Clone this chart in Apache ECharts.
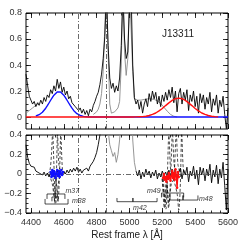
<!DOCTYPE html>
<html><head><meta charset="utf-8">
<script src="https://cdn.jsdelivr.net/npm/echarts@6/dist/echarts.min.js"></script>
<style>html,body{margin:0;padding:0;background:#fff}#c{width:240px;height:240px}</style>
</head><body><div id="c"></div>
<script>
// ---- wavelength sampling grid (Å) ----
const lamStart = 4370, lamStep = 10;

// ---- top panel: observed spectrum f_lambda ----
const fluxTop = [
 0.33,0.24,0.16,0.13,0.10,0.12,0.08,0.11,0.09,0.13,
 0.10,0.15,0.12,0.17,0.15,0.21,0.18,0.24,0.20,0.29,
 0.22,0.27,0.19,0.23,0.17,0.20,0.14,0.16,0.11,0.12,
 0.08,0.09,0.05,0.07,0.03,0.06,0.02,0.05,0.01,0.06,
 0.04,0.09,0.12,0.16,0.19,0.25,0.33,0.45,0.62,0.95,
 0.55,0.30,0.22,0.26,0.19,0.24,0.20,0.30,0.55,0.95,
 0.60,0.45,0.50,0.85,0.95,0.40,0.15,0.10,0.13,0.06,
 0.12,0.03,0.10,0.14,0.08,0.18,0.12,0.20,0.14,0.19,
 0.10,0.16,0.08,0.17,0.12,0.19,0.13,0.21,0.15,0.23,
 0.11,0.20,0.04,0.18,0.22,0.10,0.19,0.13,0.21,0.05,
 0.17,0.12,0.20,0.08,0.16,0.03,0.18,0.11,0.17,0.06,
 0.15,0.10,0.19,0.04,0.14,0.09,0.17,0.03,0.13,0.08,
 0.16,0.02,-0.09,0.07
];
// grey model (top)
const modelTop = [
 0.03,0.04,0.05,0.06,0.07,0.08,0.09,0.10,0.11,null,
 null,null,null,null,null,null,null,null,null,null,
 null,null,null,null,null,null,null,null,null,null,
 null,null,null,null,null,null,null,null,null,null,
 null,0.02,0.03,0.04,0.06,0.10,0.18,0.35,0.70,1.00,
 0.50,0.10,0.03,0.03,0.04,0.05,0.07,0.12,0.40,1.00,
 0.50,0.32,0.45,1.00,1.00,0.35,0.14,0.13,0.13,0.13,
 0.13,0.13,0.135,0.135,0.14,0.14,0.14,0.14,0.135,0.13,
 0.125,0.115,0.105,0.09,0.075,0.06,0.045,0.03,0.02,0.012,
 0.006,0.002,0.0,null,null,null,null,null,null,null,
 null,null,null,null,null,null,null,null,null,null,
 null,null,null,null,null,null,null,null,null,null,
 null,null,null,null
];
// blue component
const blueLam = [4430,4440,4450,4460,4470,4480,4490,4500,4510,4520,4530,4540,4550,4560,4570,4580,4590,4600,4610,4620,4630,4640,4650,4660,4670,4680,4690,4700,4710,4720,4730,4740,4750,4760,5600];
const blueVal = [0.008,0.012,0.018,0.026,0.037,0.051,0.068,0.087,0.108,0.129,0.150,0.168,0.183,0.192,0.195,0.192,0.183,0.168,0.150,0.129,0.108,0.087,0.068,0.051,0.037,0.026,0.018,0.012,0.008,0.005,0.003,0.002,0.001,0,0];
// red component
const redLam = [4370,5020,5040,5060,5080,5100,5110,5120,5130,5140,5150,5160,5170,5180,5190,5200,5210,5220,5230,5240,5250,5260,5270,5280,5290,5300,5310,5320,5330,5340,5350,5360,5370,5380,5390,5400,5410,5420,5430,5440,5450,5460,5470,5480,5490,5500,5520,5540];
const redVal = [0,0,0.001,0.002,0.003,0.006,0.009,0.012,0.015,0.020,0.025,0.031,0.039,0.047,0.056,0.066,0.077,0.088,0.099,0.109,0.119,0.128,0.135,0.141,0.144,0.145,0.144,0.141,0.135,0.128,0.119,0.109,0.099,0.088,0.077,0.066,0.056,0.047,0.039,0.031,0.025,0.020,0.015,0.012,0.009,0.006,0.003,0.001];

// ---- bottom panel: residuals ----
const residBottom = [
 0.30,0.17,0.11,0.08,0.06,0.07,0.03,0.05,0.01,0.03,
 -0.01,0.02,-0.02,0.01,-0.03,0.02,-0.02,0.03,-0.01,0.04,
 -0.03,0.02,-0.02,0.03,0.00,0.04,0.01,0.05,0.02,0.06,
 0.03,0.07,0.02,0.05,0.01,0.04,0.02,0.06,0.03,0.08,
 0.10,0.13,0.17,0.22,0.30,0.40,0.55,null,null,null,
 null,null,null,null,null,null,null,null,null,null,
 null,null,null,null,null,null,null,0.03,-0.02,0.04,
 -0.05,0.02,-0.03,0.05,-0.01,0.03,-0.04,0.02,-0.02,0.04,
 -0.05,0.01,-0.03,0.03,-0.02,0.02,-0.03,0.04,-0.02,0.05,
 -0.04,0.03,-0.09,0.02,0.06,-0.05,0.04,-0.01,0.07,-0.08,
 0.03,-0.02,0.08,-0.05,0.04,-0.11,0.07,-0.01,0.06,-0.07,
 0.05,-0.02,0.10,-0.09,0.04,-0.03,0.09,-0.10,0.05,-0.04,
 0.12,-0.12,-0.37,0.05
];
const greyBottom = [
 null,null,null,null,null,null,null,null,null,null,
 null,null,null,null,null,null,null,null,null,null,
 null,null,null,null,null,null,null,null,null,null,
 null,null,null,null,null,null,null,null,null,null,
 null,null,null,null,null,null,0.50,0.62,0.70,0.70,
 0.45,0.30,0.24,0.18,0.22,0.12,0.20,0.35,0.60,0.80,
 0.55,0.42,0.50,0.75,0.80,0.35,0.12,0.03,null,null
];
// dashed individual-line residual curves [lambda, delta]
const dashL1 = [[4500,0],[4515,0.03],[4525,0.2],[4532,0.42],[4540,0.1],[4548,-0.25],[4556,-0.05],[4570,0]];
const dashL2 = [[4520,0],[4535,-0.05],[4545,-0.3],[4555,0.0],[4562,0.42],[4570,0.1],[4585,0]];
const dashL3 = [[4540,0],[4555,-0.1],[4565,-0.28],[4575,0.05],[4582,0.42],[4592,0.05],[4605,0]];
const dashL4 = [[4510,0],[4530,-0.1],[4540,-0.22],[4550,-0.3],[4560,-0.2],[4572,-0.05],[4590,0]];
const dashR1 = [[5195,0],[5210,-0.2],[5222,-0.36],[5232,0.05],[5240,0.42],[5250,0.05],[5260,0]];
const dashR2 = [[5205,0],[5218,-0.3],[5228,-0.1],[5238,-0.35],[5250,-0.05],[5262,0.42],[5272,0.1],[5285,0]];
const dashR3 = [[5200,-0.05],[5212,-0.35],[5225,-0.05],[5240,-0.3],[5255,-0.1],[5270,-0.05],[5285,0.42],[5295,0.1],[5310,0]];
const dashR4 = [[5260,0],[5290,-0.2],[5300,-0.37],[5310,-0.1],[5318,0.42],[5328,0.05],[5340,0]];
// fitted points
const bluePts = [[4520,0.02],[4525,-0.03],[4530,0.04],[4535,-0.02],[4540,0.03],[4545,0.0],[4550,-0.04],[4555,0.02],[4560,0.04],[4565,-0.02],[4570,0.03],[4575,-0.03],[4580,0.02],[4585,0.04],[4590,-0.01],[4595,0.02]];
const redPts = [[5205,-0.04],[5210,0.0],[5215,-0.06],[5220,-0.03],[5225,-0.08],[5230,-0.02],[5235,-0.05],[5240,0.01],[5245,-0.04],[5250,-0.07],[5255,-0.02],[5260,0.03],[5265,-0.04],[5270,0.01],[5275,-0.06],[5280,0.05],[5285,-0.02],[5290,-0.14],[5295,0.02],[5300,-0.03]];
// range brackets
const brM37 = [[4498,-0.256],[4498,-0.205],[4607,-0.205],[4607,-0.256]];
const brSmall = [[4528,-0.28],[4528,-0.236],[4565,-0.236],[4565,-0.28]];
const brM38 = [[4486,-0.256],[4486,-0.308],[4626,-0.308],[4626,-0.256]];
const brM42 = [[4924,-0.246],[4924,-0.284],[5021,-0.284],[5021,-0.246],[5021,-0.284],[5168,-0.284],[5168,-0.246]];
const brM48 = [[5247,-0.22],[5247,-0.267],[5326,-0.267],[5326,-0.22],[5326,-0.267],[5417,-0.267],[5417,-0.22]];
const brM49 = [[5195,-0.24],[5195,-0.195],[5330,-0.195],[5330,-0.24]];
const bracketLabels = [
 {name:'m37', value:[4610,-0.178]},
 {name:'m38', value:[4650,-0.277]},
 {name:'m42', value:[5022,-0.35]},
 {name:'m49', value:[5107,-0.175]},
 {name:'m48', value:[5423,-0.262]}
];
// reference lines
const vLines = [4686, 4861];
// ticks
const xMajor = [4400,4600,4800,5000,5200,5400,5600];
const xMinor = [4400,4450,4500,4550,4600,4650,4700,4750,4800,4850,4900,4950,5000,5050,5100,5150,5200,5250,5300,5350,5400,5450,5500,5550,5600];
const yTopMajor = [0,0.2,0.4,0.6,0.8];
const yTopMinor = [-0.05,0,0.05,0.1,0.15,0.2,0.25,0.3,0.35,0.4,0.45,0.5,0.55,0.6,0.65,0.7,0.75,0.8];
const yBotMajor = [-0.4,-0.2,0,0.2,0.4];
const yBotMinor = [-0.4,-0.35,-0.3,-0.25,-0.2,-0.15,-0.1,-0.05,0,0.05,0.1,0.15,0.2,0.25,0.3,0.35,0.4];

const lam = fluxTop.map((_, i) => lamStart + i * lamStep);
const pairs = (xs, ys) => ys.map((y, i) => [xs[i], y === null ? '-' : y]);

const FONT = 'Liberation Sans';
const TC = '#333';
function xa(g, pos, ticks, len, showLab, name) {
  return {type:'value', gridIndex:g, position:pos, min:4370, max:5600,
    axisLine:{show:false, onZero:false}, splitLine:{show:false},
    axisTick:{show:true, inside:true, length:len, customValues:ticks, lineStyle:{color:'#000', width:0.8}},
    axisLabel:{show:showLab, customValues:xMajor, margin:5, fontSize:9, color:TC, fontFamily:FONT, formatter:v => String(v)},
    name:name||'', nameLocation:'middle', nameGap:17,
    nameTextStyle:{fontSize:10, color:'#222', fontFamily:FONT}};
}
const fmt = v => (v < 0 ? '\u2212' : '') + Math.abs(Math.round(v*10)/10);
function ya(g, pos, min, max, ticks, len, labVals, name) {
  return {type:'value', gridIndex:g, position:pos, min:min, max:max,
    axisLine:{show:false, onZero:false}, splitLine:{show:false},
    axisTick:{show:true, inside:true, length:len, customValues:ticks, lineStyle:{color:'#000', width:0.8}},
    axisLabel:{show:!!labVals, customValues:labVals||[], margin:4, fontSize:9, color:TC, fontFamily:FONT, formatter:fmt},
    name:name||'', nameLocation:'middle', nameGap:14, nameRotate:90,
    nameTextStyle:{fontSize:10, color:'#222', fontFamily:FONT,
      rich:{i:{fontSize:10, color:'#222', fontFamily:FONT}, s:{fontSize:7, color:'#222', fontFamily:FONT, padding:[6,0,0,0]}}}};
}
const topMin = -0.092, topMax = 0.8;
const dashStyle = {color:'#000', width:0.7, type:[3,2]};
function dashSeries(d) {
  return {type:'line', xAxisIndex:4, yAxisIndex:4, data:d, showSymbol:false, smooth:0.3, lineStyle:dashStyle, silent:true, z:3};
}
function brSeries(d) {
  return {type:'line', xAxisIndex:4, yAxisIndex:4, data:d, showSymbol:false, lineStyle:{color:'#000', width:0.7}, silent:true, z:5};
}
const dashDot = {color:'#444', width:0.8, type:[5,2,1,2]};

const option = {
  animation:false,
  backgroundColor:'#fff',
  grid:[
    {left:26, width:202, top:13, height:116, show:true, borderColor:'#000', borderWidth:1, containLabel:false, outerBoundsMode:'none'},
    {left:26, width:202, top:135, height:78, show:true, borderColor:'#000', borderWidth:1, containLabel:false, outerBoundsMode:'none'}
  ],
  xAxis:[
    xa(0,'bottom',xMinor,2.5,false), xa(0,'bottom',xMajor,5,false), xa(0,'top',xMinor,2.5,false), xa(0,'top',xMajor,5,false),
    xa(1,'bottom',xMinor,2.5,false), xa(1,'bottom',xMajor,5,true,'Rest frame \u03bb [\u00c5]'), xa(1,'top',xMinor,2.5,false), xa(1,'top',xMajor,5,false)
  ],
  yAxis:[
    ya(0,'left',topMin,topMax,yTopMinor,2.5,null), ya(0,'left',topMin,topMax,yTopMajor,5,yTopMajor,'{i|f}{s|\u03bb}'),
    ya(0,'right',topMin,topMax,yTopMinor,2.5,null), ya(0,'right',topMin,topMax,yTopMajor,5,null),
    ya(1,'left',-0.4,0.4,yBotMinor,2.5,null), ya(1,'left',-0.4,0.4,yBotMajor,5,yBotMajor,'{i|\u03b4f}{s|\u03bb}{i| or \u03b4f}{s|\u03bb}{i|/f}{s|\u03bb}'),
    ya(1,'right',-0.4,0.4,yBotMinor,2.5,null), ya(1,'right',-0.4,0.4,yBotMajor,5,null)
  ],
  graphic:[{type:'text', left:162, top:29, style:{text:'J13311', fontSize:10, fill:'#222', fontFamily:FONT}}],
  series:[
    {type:'line', xAxisIndex:0, yAxisIndex:0, data:[], silent:true,
      markLine:{silent:true, symbol:'none', label:{show:false}, lineStyle:dashDot, data:vLines.map(v=>({xAxis:v}))}},
    {type:'line', xAxisIndex:0, yAxisIndex:0, data:pairs(lam, modelTop), showSymbol:false, lineStyle:{color:'#8a8a8a', width:0.9}, z:2},
    {type:'line', xAxisIndex:0, yAxisIndex:0, data:pairs(lam, fluxTop), showSymbol:false, lineStyle:{color:'#000', width:0.9}, z:3},
    {type:'line', xAxisIndex:0, yAxisIndex:0, data:pairs(blueLam, blueVal), showSymbol:false, lineStyle:{color:'#1010ff', width:1.4}, z:4},
    {type:'line', xAxisIndex:0, yAxisIndex:0, data:pairs(redLam, redVal), showSymbol:false, lineStyle:{color:'#ff1010', width:1.4}, z:5},

    {type:'line', xAxisIndex:4, yAxisIndex:4, data:[], silent:true,
      markLine:{silent:true, symbol:'none', label:{show:false}, lineStyle:dashDot, data:vLines.map(v=>({xAxis:v})).concat([{yAxis:0}])}},
    {type:'line', xAxisIndex:4, yAxisIndex:4, data:pairs(lam, greyBottom), showSymbol:false, lineStyle:{color:'#8a8a8a', width:0.9}, z:2},
    {type:'line', xAxisIndex:4, yAxisIndex:4, data:pairs(lam, residBottom), showSymbol:false, lineStyle:{color:'#000', width:0.9}, z:3},
    dashSeries(dashL1), dashSeries(dashL2), dashSeries(dashL3), dashSeries(dashL4),
    dashSeries(dashR1), dashSeries(dashR2), dashSeries(dashR3), dashSeries(dashR4),
    {type:'line', xAxisIndex:4, yAxisIndex:4, data:bluePts, symbol:'circle', symbolSize:2.5, itemStyle:{color:'#1010ff'}, lineStyle:{color:'#1010ff', width:1.4}, z:6},
    {type:'line', xAxisIndex:4, yAxisIndex:4, data:redPts, symbol:'circle', symbolSize:2.5, itemStyle:{color:'#ff1010'}, lineStyle:{color:'#ff1010', width:1.4}, z:6},
    brSeries(brM37), brSeries(brSmall), brSeries(brM38), brSeries(brM42), brSeries(brM48), brSeries(brM49),
    {type:'scatter', xAxisIndex:4, yAxisIndex:4, data:bracketLabels, symbolSize:0, silent:true, z:7,
      label:{show:true, position:'right', distance:0, formatter:'{b}', fontSize:7, fontStyle:'italic', color:'#000', fontFamily:FONT}}
  ]
};
echarts.init(document.getElementById('c'), null, {renderer:'canvas'}).setOption(option);
</script></body></html>
